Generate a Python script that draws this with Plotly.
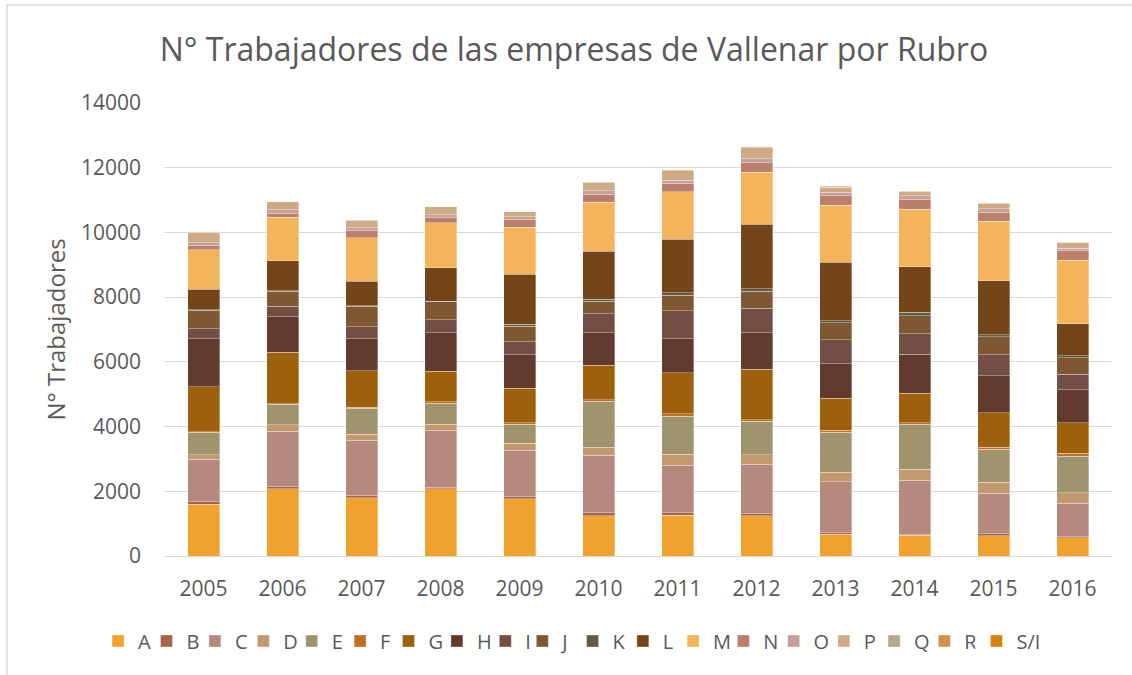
import plotly.graph_objects as go

years = ["2005", "2006", "2007", "2008", "2009", "2010", "2011", "2012", "2013", "2014", "2015", "2016"]

rubros = ["A", "B", "C", "D", "E", "F", "G", "H", "I", "J", "K", "L", "M", "N", "O", "P", "Q", "R", "S/I"]

A = [1600, 2085, 1806, 2074, 1775, 1249, 1259, 1249, 671, 640, 630, 557]
B = [80, 62, 72, 52, 62, 82, 72, 51, 41, 20, 61, 42]
C = [1310, 1713, 1703, 1754, 1434, 1786, 1476, 1538, 1589, 1682, 1249, 1032]
D = [134, 196, 175, 196, 217, 247, 341, 289, 289, 341, 341, 319]
E = [700, 640, 805, 651, 588, 1424, 1176, 1032, 1239, 1393, 1021, 1136]
F = [20, 15, 30, 41, 42, 42, 72, 52, 62, 41, 52, 82]
G = [1390, 1579, 1140, 939, 1073, 1073, 1270, 1568, 990, 919, 1073, 950]
H = [1486, 1104, 980, 1187, 1022, 991, 1042, 1115, 1053, 1197, 1146, 1021]
I = [310, 320, 372, 402, 402, 599, 867, 763, 743, 639, 640, 485]
J = [567, 464, 629, 558, 485, 381, 485, 527, 537, 558, 557, 496]
K = [10, 15, 15, 15, 62, 62, 83, 82, 62, 103, 72, 72]
L = [640, 929, 764, 1042, 1548, 1476, 1651, 1992, 1795, 1414, 1662, 980]
M = [1218, 1342, 1341, 1383, 1445, 1517, 1465, 1599, 1775, 1775, 1837, 1961]
N = [134, 134, 217, 165, 258, 258, 268, 290, 289, 309, 289, 300]
O = [83, 103, 103, 82, 72, 103, 93, 123, 114, 104, 103, 72]
P = [330, 258, 227, 258, 155, 268, 279, 341, 155, 144, 175, 175]
Q = [8, 8, 8, 8, 8, 8, 8, 8, 8, 8, 8, 8]
R = [4, 4, 4, 4, 4, 4, 4, 4, 4, 4, 4, 4]
SI = [4, 4, 4, 4, 4, 4, 4, 4, 4, 4, 4, 4]

series = [A, B, C, D, E, F, G, H, I, J, K, L, M, N, O, P, Q, R, SI]

colors = ["#F0A22E", "#A5644E", "#B5897D", "#C3986D", "#A0946E", "#C07127", "#9E600C",
          "#633A2E", "#734E45", "#7F5833", "#625B44", "#744518", "#F3B45B", "#BA7F6D",
          "#C5A19B", "#CFAA87", "#B3A98D", "#D78F4A", "#D6820F"]

# legend groups (split so the spacing follows the reference)
legend_of = ["legend"] * 9 + ["legend2"] * 9 + ["legend3"]

FONT = "Open Sans"
TXT = "#595959"

fig = go.Figure()
for name, vals, col, lg in zip(rubros, series, colors, legend_of):
    fig.add_trace(go.Bar(
        x=years, y=vals, name=name, legend=lg,
        marker=dict(color=col, line=dict(color="rgba(255,255,255,0.55)", width=0.6)),
    ))

leg_common = dict(
    orientation="h", yanchor="middle", y=-0.1876, xanchor="left",
    font=dict(size=20, color=TXT, family=FONT), traceorder="normal",
    bgcolor="rgba(0,0,0,0)", itemwidth=30,
)

fig.update_layout(
    barmode="stack",
    bargap=0.595,
    width=1132, height=675,
    margin=dict(l=164, r=20, t=103, b=119, autoexpand=False),
    paper_bgcolor="white",
    plot_bgcolor="white",
    font=dict(family=FONT, color=TXT, size=20),
    title=dict(
        text="N° Trabajadores de las empresas de Vallenar por Rubro",
        x=0.507, xanchor="center", xref="container",
        y=0.926, yanchor="middle", yref="container",
        font=dict(family=FONT, size=32, color=TXT),
    ),
    xaxis=dict(
        showgrid=False, showline=False, ticks="", automargin=False,
        tickfont=dict(size=21, color=TXT),
        ticklabelstandoff=18,
    ),
    yaxis=dict(
        range=[0, 14000], dtick=2000, tickformat="d", automargin=False,
        showgrid=True, gridcolor="#D9D9D9", gridwidth=1.3,
        zeroline=True, zerolinecolor="#D9D9D9", zerolinewidth=1.3,
        showline=False, ticks="",
        tickfont=dict(size=21, color=TXT),
        ticklabelstandoff=22,
        title=dict(text="N° Trabajadores", font=dict(size=24, color=TXT), standoff=8),
    ),
    legend=dict(leg_common, x=-0.0695, entrywidth=3.4, entrywidthmode="pixels"),
    legend2=dict(leg_common, x=0.378, entrywidth=5.25, entrywidthmode="pixels"),
    legend3=dict(leg_common, x=0.857),
    showlegend=True,
    shapes=[dict(
        type="rect", xref="paper", yref="paper",
        x0=-0.1656, x1=2.0, y0=-1.0, y1=1.2163,
        line=dict(color="#D9D9D9", width=1.5),
        fillcolor="rgba(0,0,0,0)", layer="below",
    )],
)

fig.write_html("out.html", config={"displayModeBar": False},
               post_script="document.body.style.margin='0';")
